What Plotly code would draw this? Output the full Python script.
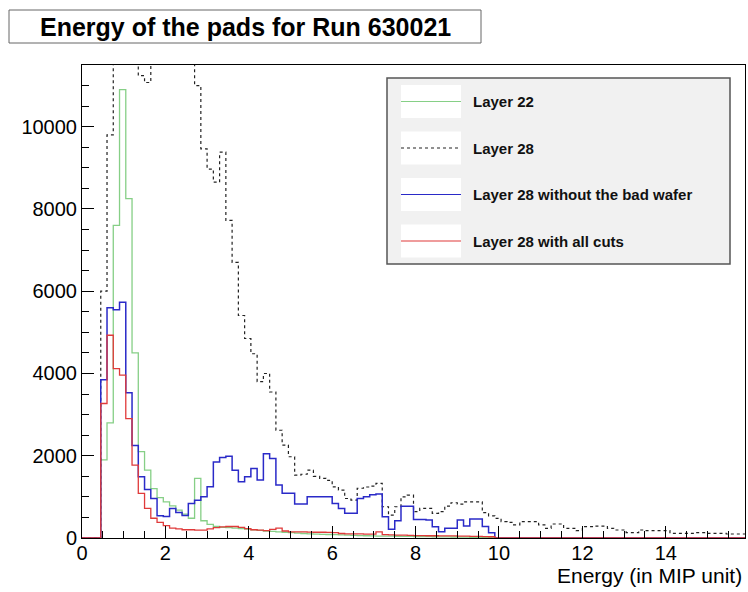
import numpy as np
import plotly.graph_objects as go

# ---------------- data (histogram contents, bin width 0.15 MIP, 0 .. 15.9) ----------------
bin_width = 0.15
n_bins = 106

layer22 = [0, 0, 0, 1900, 2800, 7600, 10900, 8250, 4500, 2100,
           1650, 1200, 980, 880, 780, 680, 580, 480, 1450, 420,
           330, 280, 260, 250, 240, 230, 215, 200, 185, 170,
           160, 150, 140, 130, 120, 110, 100, 95, 90, 85,
           80, 75, 70, 65, 60, 55, 50, 48, 46, 44,
           42, 40, 38, 36, 34, 32, 30, 28, 26, 24,
           22, 20, 18, 16, 14, 12] + [0] * 40

layer28 = [0, 0, 0, 6000, 9800, 14000, 16500, 15500, 12500, 11240,
           11075, 12000, 12800, 13200, 13200, 12800, 12300, 11800, 11000, 9460,
           8970, 8650, 9380, 7720, 6700, 5410, 4850, 4480, 3800, 4000,
           3550, 2620, 2260, 1975, 1530, 1550, 1650, 1500, 1450, 1400,
           1245, 1165, 960, 920, 1210, 1240, 1260, 1330, 760, 558,
           760, 1000, 1040, 640, 720, 720, 600, 640, 777, 857,
           825, 880, 880, 880, 615, 540, 478, 400, 380, 320,
           400, 400, 400, 320, 235, 340, 340, 235, 235, 178,
           275, 275, 290, 290, 235, 194, 194, 130, 130, 194,
           178, 178, 178, 178, 113, 113, 113, 113, 130, 130,
           113, 113, 113, 97, 97, 97]

layer28_good = [0, 0, 0, 3850, 5600, 5550, 5730, 3530, 2250, 1490,
                1180, 960, 540, 520, 720, 620, 550, 840, 920, 1000,
                1245, 1850, 1960, 1990, 1650, 1370, 1490, 1690, 1410, 2050,
                1930, 1290, 1085, 1085, 825, 825, 1000, 1000, 1000, 1000,
                840, 720, 600, 600, 960, 1000, 1050, 1070, 517, 210,
                420, 770, 770, 450, 450, 440, 275, 153, 235, 235,
                437, 290, 460, 460, 280, 130] + [0] * 40

layer28_cuts = [0, 0, 0, 3270, 4930, 4120, 3960, 2900, 1770, 1085,
                720, 480, 380, 300, 240, 220, 200, 200, 190, 190,
                220, 250, 270, 280, 280, 260, 230, 200, 190, 180,
                210, 240, 170, 150, 150, 150, 145, 140, 140, 135,
                130, 110, 100, 100, 100, 95, 95, 150, 80, 75,
                70, 70, 65, 60, 60, 55, 55, 50, 50, 50,
                45, 45, 40, 40, 35, 30] + [0] * 40

series_names = ["Layer 22", "Layer 28", "Layer 28 without the bad wafer", "Layer 28 with all cuts"]
series_values = [layer22, layer28, layer28_good, layer28_cuts]
series_colors = ["#86cf86", "#222222", "#2a2ac8", "#e03a3a"]
series_dash = ["solid", "3px,3px", "solid", "solid"]
series_width = [1.3, 1.2, 1.5, 1.3]

x_tick_vals = [0, 2, 4, 6, 8, 10, 12, 14]
y_tick_vals = [0, 2000, 4000, 6000, 8000, 10000]

# ---------------- figure ----------------
W, H = 748, 592
L, R, T, B = 82, 745, 65, 538  # plot area in pixels


def px(xp):
    return (xp - L) / (R - L)


def py(yp):
    return (B - yp) / (B - T)


edges = np.arange(n_bins + 1) * bin_width

fig = go.Figure()
for name, vals, col, dash, w in zip(series_names, series_values, series_colors, series_dash, series_width):
    v = list(vals) + [vals[-1]]
    fig.add_trace(go.Scatter(x=edges, y=v, mode="lines", line_shape="hv", name=name,
                             line=dict(color=col, width=w, dash=dash), showlegend=False,
                             hoverinfo="skip"))

font_fam = "Liberation Sans, Arial, Helvetica, sans-serif"

fig.update_layout(
    width=W, height=H,
    margin=dict(l=L, r=W - R, t=T, b=H - B),
    paper_bgcolor="white", plot_bgcolor="white",
    font=dict(family=font_fam, color="black"),
    xaxis=dict(range=[0, 15.9], showgrid=False, zeroline=False, showline=True, linecolor="black",
               linewidth=1, mirror=True, ticks="inside", ticklen=12, tickcolor="black",
               tickvals=x_tick_vals, ticktext=[str(v) for v in x_tick_vals],
               tickfont=dict(size=20, family=font_fam), ticklabelstandoff=-3,
               minor=dict(ticks="inside", ticklen=7, dtick=0.5, tickcolor="black", showgrid=False)),
    yaxis=dict(range=[0, 11500], showgrid=False, zeroline=False, showline=True, linecolor="black",
               linewidth=1, mirror=True, ticks="inside", ticklen=12, tickcolor="black",
               tickvals=y_tick_vals, ticktext=[str(v) for v in y_tick_vals],
               tickfont=dict(size=20, family=font_fam),
               minor=dict(ticks="inside", ticklen=7, dtick=500, tickcolor="black", showgrid=False)),
)

shapes = []
annotations = []

# title box
shapes.append(dict(type="rect", xref="paper", yref="paper", x0=px(9), x1=px(481), y0=py(43), y1=py(10),
                   line=dict(color="#666666", width=1), fillcolor="white", layer="above"))
annotations.append(dict(xref="paper", yref="paper", x=px(245), y=py(27), text="<b>Energy of the pads for Run 630021</b>",
                        showarrow=False, xanchor="center", yanchor="middle",
                        font=dict(size=25, family=font_fam, color="black")))

# legend
shapes.append(dict(type="rect", xref="paper", yref="paper", x0=px(387), x1=px(730), y0=py(264), y1=py(78),
                   line=dict(color="#555555", width=1.5), fillcolor="#f1f1f1", layer="above"))
centers = [101.5, 148, 194.5, 241]
for c, name, col, dash, w in zip(centers, series_names, series_colors, series_dash, series_width):
    shapes.append(dict(type="rect", xref="paper", yref="paper", x0=px(401), x1=px(461),
                       y0=py(c + 16.5), y1=py(c - 16.5), line=dict(width=0), fillcolor="white", layer="above"))
    shapes.append(dict(type="line", xref="paper", yref="paper", x0=px(401), x1=px(461), y0=py(c), y1=py(c),
                       line=dict(color=col, width=1.2, dash=dash), layer="above"))
    annotations.append(dict(xref="paper", yref="paper", x=px(471), y=py(c), text="<b>" + name + "</b>",
                            showarrow=False, xanchor="left", yanchor="middle",
                            font=dict(size=15, family=font_fam, color="#111111")))

# x axis title
annotations.append(dict(xref="paper", yref="paper", x=px(744), y=py(575), text="Energy (in MIP unit)",
                        showarrow=False, xanchor="right", yanchor="middle",
                        font=dict(size=21, family=font_fam, color="black")))

fig.update_layout(shapes=shapes, annotations=annotations)
fig.write_html("out.html", config={"displayModeBar": False})

# remove the browser's default page margin so the figure sits at the window origin
with open("out.html", "r", encoding="utf-8") as f:
    html = f.read()
html = html.replace("<head>", "<head><style>html,body{margin:0;padding:0;overflow:hidden;}</style>", 1)
with open("out.html", "w", encoding="utf-8") as f:
    f.write(html)
